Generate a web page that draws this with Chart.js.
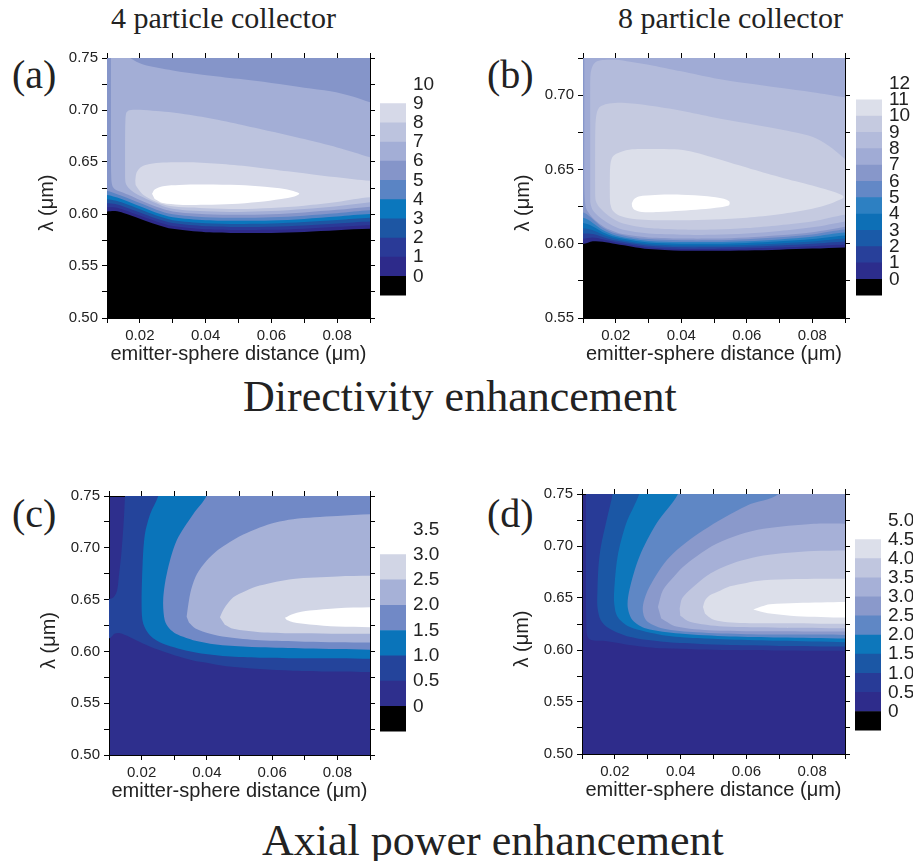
<!DOCTYPE html>
<html>
<head>
<meta charset="utf-8">
<script src="https://cdn.jsdelivr.net/npm/chart.js@4.4.1/dist/chart.umd.min.js"></script>
<style>
  html, body { margin: 0; padding: 0; background: #fff; width: 913px; height: 861px; overflow: hidden; }
  body { position: relative; }
  canvas { position: absolute; }
  .serif { position: absolute; font-family: "Liberation Serif", "Times New Roman", serif; color: #222; line-height: 1; white-space: nowrap; }
</style>
</head>
<body>
<div class="serif" style="left:111px;top:3px;font-size:30px">4 particle collector</div>
<div class="serif" style="left:618px;top:3px;font-size:30px">8 particle collector</div>
<div class="serif" style="left:12px;top:55px;font-size:40px">(a)</div>
<div class="serif" style="left:487px;top:55px;font-size:40px">(b)</div>
<div class="serif" style="left:12px;top:494px;font-size:40px">(c)</div>
<div class="serif" style="left:487px;top:494px;font-size:40px">(d)</div>
<div class="serif" style="left:243px;top:375px;font-size:44px">Directivity enhancement</div>
<div class="serif" style="left:262px;top:819px;font-size:44px">Axial power enhancement</div>

<canvas id="plotA"></canvas>
<canvas id="plotB"></canvas>
<canvas id="plotC"></canvas>
<canvas id="plotD"></canvas>
<canvas id="barA"></canvas>
<canvas id="barB"></canvas>
<canvas id="barC"></canvas>
<canvas id="barD"></canvas>

<script>
// 축 / 글꼴 기본값
Chart.defaults.font.family = '"Liberation Sans", Arial, sans-serif';
Chart.defaults.color = '#222';

// ---- (a) 4 particle collector, directivity: 등고선 경계 (x = 거리 µm, y = λ µm) ----
const xsA = [0.01, 0.0125, 0.015, 0.02, 0.025, 0.03, 0.04, 0.05, 0.06, 0.07, 0.08, 0.09];
const a0 = [0.6025, 0.6028, 0.601, 0.5955, 0.590, 0.5857, 0.5825, 0.5818, 0.5818, 0.5828, 0.5844, 0.5857];
const a1 = [0.6064, 0.6062, 0.6042, 0.5985, 0.5928, 0.5885, 0.5854, 0.5847, 0.5848, 0.5859, 0.5877, 0.5893];
const a2 = [0.6103, 0.6095, 0.6073, 0.6015, 0.5957, 0.5913, 0.5883, 0.5876, 0.5878, 0.5890, 0.5909, 0.5928];
const a3 = [0.6143, 0.6129, 0.6105, 0.6045, 0.5985, 0.5941, 0.5912, 0.5905, 0.5908, 0.5922, 0.5942, 0.5964];
const a4 = [0.6182, 0.6163, 0.6137, 0.6075, 0.6013, 0.5969, 0.5940, 0.5934, 0.5938, 0.5953, 0.5975, 0.5999];
const a5 = [0.6221, 0.6196, 0.6168, 0.6105, 0.6042, 0.5997, 0.5969, 0.5963, 0.5968, 0.5984, 0.6007, 0.6035];
const a6 = [[0.0112, 0.90], [0.0112, 0.76], [0.0112, 0.70], [0.0112, 0.66], [0.0113, 0.635], [0.0116, 0.6275],
  [0.0125, 0.6235], [0.015, 0.6205], [0.017, 0.6178], [0.02, 0.6135], [0.025, 0.607], [0.03, 0.6025], [0.04, 0.5998],
  [0.05, 0.5992], [0.06, 0.5998], [0.07, 0.6015], [0.08, 0.604], [0.09, 0.607], [0.10, 0.610], [0.105, 0.64],
  [0.10, 0.701], [0.09, 0.7075], [0.085, 0.7128], [0.078, 0.718], [0.07, 0.7215], [0.06, 0.726], [0.05, 0.730],
  [0.039, 0.734], [0.03, 0.738], [0.021, 0.7437], [0.017, 0.75], [0.0145, 0.756], [0.013, 0.90]];
const a7 = [[0.0155, 0.645], [0.0155, 0.67], [0.0156, 0.690], [0.0159, 0.6975], [0.0168, 0.6998], [0.02, 0.7003],
  [0.025, 0.699], [0.03, 0.6975], [0.04, 0.6927], [0.05, 0.6863], [0.06, 0.6793], [0.07, 0.672], [0.08, 0.664],
  [0.09, 0.6545], [0.10, 0.644], [0.105, 0.63], [0.10, 0.6145], [0.09, 0.6112], [0.08, 0.6075], [0.07, 0.6048],
  [0.06, 0.6028], [0.05, 0.602], [0.04, 0.6027], [0.033, 0.6038], [0.028, 0.6065], [0.024, 0.6115], [0.02, 0.6175],
  [0.018, 0.6212], [0.0165, 0.6252], [0.0157, 0.6295], [0.0155, 0.635]];
const a8 = [[0.0186, 0.632], [0.019, 0.640], [0.0205, 0.6455], [0.023, 0.648], [0.027, 0.6495], [0.035, 0.6497],
  [0.045, 0.648], [0.055, 0.645], [0.065, 0.641], [0.075, 0.637], [0.085, 0.6335], [0.09, 0.632], [0.10, 0.629],
  [0.105, 0.622], [0.10, 0.6158], [0.09, 0.616], [0.08, 0.6115], [0.07, 0.608], [0.06, 0.6058], [0.05, 0.6048],
  [0.04, 0.6055], [0.033, 0.6065], [0.028, 0.6085], [0.024, 0.613], [0.021, 0.6185], [0.0195, 0.624], [0.0187, 0.628]];
const a9 = [[0.0237, 0.6194], [0.0245, 0.6235], [0.027, 0.6268], [0.032, 0.628], [0.04, 0.6283], [0.05, 0.6278],
  [0.058, 0.6262], [0.064, 0.624], [0.0675, 0.6212], [0.0685, 0.6195], [0.067, 0.6168], [0.063, 0.6145],
  [0.056, 0.6115], [0.048, 0.6095], [0.04, 0.6088], [0.032, 0.609], [0.027, 0.6105], [0.0245, 0.6145]];

// ---- (b) 8 particle collector, directivity ----
const xsB = [0.01, 0.013, 0.016, 0.02, 0.025, 0.03, 0.04, 0.05, 0.06, 0.07, 0.08, 0.09];
const b0 = [0.5998, 0.6016, 0.6014, 0.5998, 0.598, 0.5964, 0.5953, 0.5953, 0.5955, 0.596, 0.5967, 0.5975];
const b1 = [0.6033, 0.6041, 0.6030, 0.6010, 0.5991, 0.5975, 0.5965, 0.5965, 0.5967, 0.5974, 0.5983, 0.5995];
const b2 = [0.6069, 0.6066, 0.6046, 0.6021, 0.6001, 0.5986, 0.5976, 0.5976, 0.5980, 0.5988, 0.5999, 0.6015];
const b3 = [0.6104, 0.6091, 0.6062, 0.6033, 0.6012, 0.5997, 0.5988, 0.5988, 0.5992, 0.6002, 0.6015, 0.6035];
const b4 = [0.6139, 0.6116, 0.6078, 0.6045, 0.6023, 0.6008, 0.6000, 0.6000, 0.6005, 0.6016, 0.6031, 0.6055];
const b5 = [0.6174, 0.6140, 0.6093, 0.6056, 0.6033, 0.6019, 0.6012, 0.6012, 0.6017, 0.6029, 0.6047, 0.6075];
const b6 = [0.6210, 0.6165, 0.6109, 0.6068, 0.6044, 0.6031, 0.6023, 0.6023, 0.6030, 0.6043, 0.6062, 0.6095];
const b7 = [[0.0104, 0.90], [0.0104, 0.74], [0.0104, 0.68], [0.0104, 0.64], [0.0106, 0.6285], [0.011, 0.6235],
  [0.0125, 0.6185], [0.015, 0.6135], [0.018, 0.6095], [0.022, 0.6065], [0.03, 0.6042], [0.04, 0.6035], [0.05, 0.6035],
  [0.06, 0.6042], [0.07, 0.6057], [0.08, 0.6078], [0.09, 0.6115], [0.10, 0.6155], [0.10, 0.90]];
const b8 = [[0.0122, 0.64], [0.0122, 0.68], [0.0122, 0.705], [0.0123, 0.714], [0.0128, 0.719], [0.0138, 0.7222],
  [0.016, 0.7236], [0.02, 0.7238], [0.0244, 0.7225], [0.03, 0.7205], [0.04, 0.716], [0.05, 0.7114], [0.06, 0.708],
  [0.07, 0.705], [0.08, 0.702], [0.09, 0.6985], [0.10, 0.695], [0.105, 0.66], [0.10, 0.619], [0.09, 0.615],
  [0.08, 0.611], [0.07, 0.6085], [0.06, 0.6068], [0.05, 0.606], [0.04, 0.606], [0.03, 0.6068], [0.022, 0.6095],
  [0.018, 0.6135], [0.015, 0.618], [0.013, 0.6225], [0.0123, 0.627], [0.0122, 0.632]];
const b9 = [[0.0137, 0.64], [0.0137, 0.66], [0.0138, 0.68], [0.0142, 0.688], [0.015, 0.6918], [0.0165, 0.6935],
  [0.018, 0.6943], [0.022, 0.6948], [0.03, 0.693], [0.04, 0.6895], [0.05, 0.685], [0.06, 0.681], [0.07, 0.677],
  [0.08, 0.672], [0.085, 0.666], [0.09, 0.657], [0.095, 0.645], [0.10, 0.63], [0.10, 0.621], [0.09, 0.6195],
  [0.08, 0.615], [0.07, 0.6125], [0.06, 0.6105], [0.05, 0.6095], [0.04, 0.6095], [0.03, 0.6105], [0.022, 0.6138],
  [0.018, 0.6185], [0.015, 0.6245], [0.0139, 0.629], [0.0137, 0.634]];
const b10 = [[0.0182, 0.631], [0.0182, 0.645], [0.0184, 0.654], [0.0192, 0.659], [0.0213, 0.6616], [0.025, 0.6635],
  [0.03, 0.6638], [0.038, 0.6635], [0.043, 0.662], [0.048, 0.659], [0.055, 0.6545], [0.065, 0.648], [0.075, 0.642],
  [0.085, 0.636], [0.0893, 0.6325], [0.0895, 0.631], [0.088, 0.6292], [0.085, 0.6265], [0.08, 0.6235], [0.07, 0.6198],
  [0.06, 0.6175], [0.05, 0.6163], [0.04, 0.6158], [0.03, 0.616], [0.025, 0.6168], [0.021, 0.619], [0.019, 0.6225],
  [0.0183, 0.627]];
const b11 = [[0.0249, 0.627], [0.0255, 0.6298], [0.027, 0.6318], [0.032, 0.6328], [0.04, 0.633], [0.048, 0.632],
  [0.053, 0.6302], [0.0546, 0.6285], [0.0548, 0.6272], [0.0545, 0.6258], [0.052, 0.6246], [0.046, 0.6232],
  [0.04, 0.6222], [0.033, 0.6213], [0.028, 0.6213], [0.0257, 0.6228], [0.025, 0.6248]];

// ---- (c) 4 particle collector, axial power (0.5 단위) ----
const c1 = [[0.0, 0.6125], [0.01, 0.6125], [0.0118, 0.6172], [0.0134, 0.6176], [0.016, 0.6145], [0.0185, 0.6106],
  [0.022, 0.6055], [0.0256, 0.601], [0.03, 0.5963], [0.0358, 0.5913], [0.04, 0.589], [0.046, 0.5856], [0.0562, 0.583],
  [0.0664, 0.5814], [0.078, 0.5806], [0.09, 0.5801], [0.10, 0.58], [0.10, 0.90], [0.0152, 0.90], [0.0151, 0.77],
  [0.0149, 0.75], [0.0145, 0.725], [0.0138, 0.695], [0.013, 0.672], [0.0125, 0.659], [0.0115, 0.6525], [0.01, 0.6505],
  [0.0, 0.6505]];
const c2 = [[0.028, 0.90], [0.0265, 0.77], [0.0251, 0.75], [0.0226, 0.7324], [0.021, 0.7131], [0.0203, 0.6843],
  [0.02, 0.6426], [0.0205, 0.6266], [0.0226, 0.6154], [0.0266, 0.6074], [0.0358, 0.5994], [0.046, 0.5952],
  [0.0562, 0.5939], [0.07, 0.5934], [0.09, 0.593], [0.10, 0.593], [0.10, 0.90]];
const c3 = [[0.043, 0.90], [0.0415, 0.77], [0.0399, 0.75], [0.0358, 0.7324], [0.0307, 0.7067], [0.0277, 0.6747],
  [0.0266, 0.649], [0.0271, 0.6298], [0.0285, 0.622], [0.0305, 0.617], [0.0335, 0.6132], [0.0365, 0.6103],
  [0.041, 0.6075], [0.046, 0.6058], [0.0562, 0.604], [0.07, 0.6028], [0.08, 0.6022], [0.09, 0.6015], [0.10, 0.601],
  [0.10, 0.90]];
const c4 = [[0.0338, 0.6335], [0.0343, 0.645], [0.0352, 0.66], [0.037, 0.675], [0.0399, 0.6875], [0.043, 0.697],
  [0.046, 0.7035], [0.051, 0.7125], [0.0562, 0.7196], [0.061, 0.7245], [0.0664, 0.7276], [0.073, 0.7295],
  [0.08, 0.7308], [0.09, 0.7324], [0.10, 0.733], [0.105, 0.67], [0.10, 0.6085], [0.09, 0.6085], [0.08, 0.6088],
  [0.07, 0.6094], [0.0562, 0.6107], [0.046, 0.6138], [0.041, 0.617], [0.0365, 0.6222], [0.0345, 0.628]];
const c5 = [[0.044, 0.633], [0.0452, 0.641], [0.0481, 0.6522], [0.052, 0.6585], [0.0562, 0.6635], [0.0664, 0.6699],
  [0.08, 0.6724], [0.09, 0.673], [0.10, 0.6733], [0.105, 0.645], [0.10, 0.6168], [0.09, 0.617], [0.0664, 0.6176],
  [0.0562, 0.6186], [0.0481, 0.6218], [0.0455, 0.6258]];
const c6 = [[0.0639, 0.6324], [0.0664, 0.6362], [0.0715, 0.6394], [0.08, 0.6417], [0.09, 0.6426], [0.10, 0.643],
  [0.10, 0.623], [0.09, 0.6234], [0.08, 0.624], [0.0715, 0.626], [0.0664, 0.6282], [0.0645, 0.6302]];

// ---- (d) 8 particle collector, axial power ----
const d1 = [[0.0112, 0.90], [0.0112, 0.76], [0.0112, 0.70], [0.0112, 0.65], [0.0113, 0.625], [0.0115, 0.6145],
  [0.0122, 0.6105], [0.0135, 0.6092], [0.0162, 0.6088], [0.02, 0.6072], [0.0244, 0.6048], [0.03, 0.6027],
  [0.0346, 0.6016], [0.045, 0.6006], [0.055, 0.6], [0.07, 0.5996], [0.09, 0.5993], [0.10, 0.5992], [0.10, 0.90]];
const d2 = [[0.0205, 0.90], [0.0199, 0.77], [0.0193, 0.75], [0.0175, 0.725], [0.0157, 0.6989], [0.015, 0.68],
  [0.0147, 0.6574], [0.0147, 0.6414], [0.0157, 0.6287], [0.0183, 0.6207], [0.0244, 0.6127], [0.0346, 0.6079],
  [0.045, 0.606], [0.055, 0.6047], [0.07, 0.6039], [0.09, 0.6033], [0.10, 0.603], [0.10, 0.90]];
const d3 = [[0.0295, 0.90], [0.0285, 0.77], [0.0274, 0.75], [0.0234, 0.7213], [0.0208, 0.6893], [0.0198, 0.6574],
  [0.0198, 0.6446], [0.0208, 0.6319], [0.0244, 0.6223], [0.0346, 0.6143], [0.045, 0.6115], [0.055, 0.6101],
  [0.07, 0.6088], [0.09, 0.6075], [0.10, 0.607], [0.10, 0.90]];
const d4 = [[0.0415, 0.90], [0.0405, 0.77], [0.0392, 0.75], [0.0326, 0.7213], [0.0274, 0.6893], [0.0244, 0.6574],
  [0.0239, 0.6414], [0.0254, 0.6287], [0.0295, 0.6207], [0.0397, 0.6158], [0.055, 0.613], [0.07, 0.612],
  [0.09, 0.611], [0.10, 0.6105], [0.10, 0.90]];
const d5 = [[0.073, 0.90], [0.0715, 0.77], [0.0698, 0.75], [0.0601, 0.7388], [0.0468, 0.7149], [0.0366, 0.6893],
  [0.0305, 0.6606], [0.0285, 0.6414], [0.0295, 0.6287], [0.0346, 0.6207], [0.0448, 0.617], [0.06, 0.6152],
  [0.075, 0.6148], [0.09, 0.6145], [0.10, 0.6142], [0.10, 0.90]];
const d6 = [[0.0331, 0.6414], [0.0346, 0.6574], [0.0378, 0.670], [0.0407, 0.6798], [0.045, 0.6905], [0.0509, 0.7021],
  [0.058, 0.711], [0.0652, 0.7165], [0.0805, 0.7213], [0.09, 0.7215], [0.10, 0.7215], [0.105, 0.67], [0.10, 0.6178],
  [0.09, 0.6178], [0.07, 0.6181], [0.0499, 0.6188], [0.0387, 0.6225], [0.0341, 0.6303]];
const d7 = [[0.0397, 0.6398], [0.0405, 0.650], [0.0438, 0.6606], [0.048, 0.6715], [0.053, 0.6798], [0.0585, 0.686],
  [0.0652, 0.6909], [0.0805, 0.6951], [0.09, 0.6957], [0.10, 0.696], [0.105, 0.66], [0.10, 0.6208], [0.09, 0.621],
  [0.07, 0.6215], [0.053, 0.6225], [0.0428, 0.6271], [0.0399, 0.633]];
const d8 = [[0.0468, 0.6414], [0.0475, 0.648], [0.0489, 0.6526], [0.052, 0.657], [0.055, 0.6612], [0.06, 0.6645],
  [0.0652, 0.667], [0.075, 0.6683], [0.09, 0.6686], [0.10, 0.6688], [0.105, 0.645], [0.10, 0.6252], [0.09, 0.6252],
  [0.07, 0.6258], [0.058, 0.626], [0.053, 0.6271], [0.0495, 0.6298], [0.0474, 0.635]];
const d9 = [[0.0621, 0.639], [0.0645, 0.6418], [0.0672, 0.644], [0.0754, 0.6453], [0.09, 0.6462], [0.10, 0.6465],
  [0.10, 0.631], [0.09, 0.6312], [0.0754, 0.6325], [0.0672, 0.635], [0.0645, 0.6368]];

// 컬러바 눈금 (레벨)
const levelsA = [0, 1, 2, 3, 4, 5, 6, 7, 8, 9, 10];
const levelsB = [0, 1, 2, 3, 4, 5, 6, 7, 8, 9, 10, 11, 12];
const levelsC = [0, 0.5, 1.0, 1.5, 2.0, 2.5, 3.0, 3.5];
const levelsD = [0, 0.5, 1.0, 1.5, 2.0, 2.5, 3.0, 3.5, 4.0, 4.5, 5.0];

// 색상표 (아래 → 위)
const palA = ['#2d2a8a', '#2a3a97', '#1d56a3', '#0b77bd', '#5a84c4', '#8595c9', '#a3aed6', '#bcc3de', '#d6d9e8', '#ffffff'];
const palB = ['#2c2d8c', '#28409a', '#1a5aa8', '#0d6fb6', '#2d80c2', '#6388c6', '#8797ca', '#a0abd5', '#b3bbdb', '#c5cae0', '#dcdfea', '#ffffff'];
const palC = ['#2e2f8d', '#24449b', '#0a74ba', '#7189c6', '#a6b1d7', '#d1d5e5', '#ffffff'];
const palD = ['#2e2c8b', '#283b97', '#1b57a5', '#0d77bb', '#5f87c5', '#8a99cb', '#a6b0d7', '#c0c6df', '#dcdfea', '#ffffff'];

// 곡선 위쪽 전체 영역을 닫힌 다각형으로
function above(xs, ys) {
  const n = xs.length - 1;
  const pts = [[xs[0] - 0.01, ys[0]]];
  xs.forEach((x, i) => pts.push([x, ys[i]]));
  pts.push([xs[n] + 0.01, ys[n]], [xs[n] + 0.01, 0.95], [xs[0] - 0.01, 0.95]);
  return pts;
}

const tickFont = { size: 15 };
const titleFont = { size: 20 };

function frameAxis(pos, min, max, step) {
  return {
    type: 'linear', position: pos, min, max, z: 1,
    ticks: { display: false, stepSize: step },
    grid: { drawOnChartArea: false, tickLength: 5, color: '#000' },
    border: { display: true, color: '#000', width: 1 },
    afterFit: s => { if (pos === 'top') s.height = 12; else s.width = 10; }
  };
}

// 등고선 패널
function makePlot(id, area, yMin, yMax, base, regions, colors) {
  const cv = document.getElementById(id);
  cv.width = area.r - area.l + 90;
  cv.height = area.b - area.t + 64;
  cv.style.left = (area.l - 80) + 'px';
  cv.style.top = (area.t - 12) + 'px';

  const datasets = regions.map((pts, i) => ({
    data: pts.map(p => ({ x: p[0], y: p[1] })),
    showLine: true,
    fill: 'shape',
    backgroundColor: colors[i],
    borderWidth: 0,
    pointRadius: 0,
    tension: 0.3,
    capBezierPoints: false
  })).reverse(); // 마지막 데이터셋이 가장 먼저 그려짐

  const basePlugin = {
    id: 'base',
    beforeDraw(chart) {
      const { ctx, chartArea: a } = chart;
      ctx.save();
      ctx.fillStyle = base;
      ctx.fillRect(a.left, a.top, a.right - a.left, a.bottom - a.top);
      ctx.restore();
    }
  };

  return new Chart(cv, {
    type: 'scatter',
    data: { datasets },
    plugins: [basePlugin],
    options: {
      responsive: false,
      animation: false,
      events: [],
      layout: { padding: 0 },
      plugins: { legend: { display: false }, tooltip: { enabled: false } },
      scales: {
        x: {
          type: 'linear', position: 'bottom', min: 0.01, max: 0.09, z: 1,
          ticks: {
            stepSize: 0.01, autoSkip: false, maxRotation: 0, padding: 4, color: '#222', font: tickFont,
            callback: v => (Math.round(v * 100) % 2 === 0 ? v.toFixed(2) : '')
          },
          grid: { drawOnChartArea: false, tickLength: 5, color: '#000' },
          border: { display: true, color: '#000', width: 1 },
          title: { display: true, text: 'emitter-sphere distance (μm)', font: titleFont, color: '#222', padding: { top: 0, bottom: 4 } },
          afterFit: s => { s.height = 52; }
        },
        x2: frameAxis('top', 0.01, 0.09, 0.01),
        y: {
          type: 'linear', position: 'left', min: yMin, max: yMax, z: 1,
          ticks: {
            stepSize: 0.025, autoSkip: false, padding: 4, color: '#222', font: tickFont,
            callback: v => (Math.round(v * 1000) % 50 === 0 ? v.toFixed(2) : '')
          },
          grid: { drawOnChartArea: false, tickLength: 5, color: '#000' },
          border: { display: true, color: '#000', width: 1 },
          title: { display: true, text: 'λ (μm)\u2002\u2002\u2002', font: titleFont, color: '#222', padding: { top: 8, bottom: 0 } },
          afterFit: s => { s.width = 80; }
        },
        y2: frameAxis('right', yMin, yMax, 0.025)
      }
    }
  });
}

// 컬러바 (누적 막대)
function makeBar(id, area, levels, colors) {
  const step = levels[1] - levels[0];
  const cv = document.getElementById(id);
  cv.width = 26 + 60;
  cv.height = area.b - area.t + 28;
  cv.style.left = area.l + 'px';
  cv.style.top = (area.t - 14) + 'px';

  const datasets = colors.map((c, i) => ({
    data: [i === 0 ? -step : step],
    backgroundColor: c,
    borderWidth: 0,
    barPercentage: 1,
    categoryPercentage: 1
  }));

  return new Chart(cv, {
    type: 'bar',
    data: { labels: [''], datasets },
    options: {
      responsive: false,
      animation: false,
      events: [],
      layout: { padding: { top: 14, bottom: 14, left: 0, right: 0 } },
      plugins: { legend: { display: false }, tooltip: { enabled: false } },
      scales: {
        x: { display: false, stacked: true },
        y: {
          stacked: true, position: 'right', min: -step, max: levels[levels.length - 1],
          ticks: {
            stepSize: step, autoSkip: false, padding: 7, color: '#222', font: { size: 19 },
            callback: v => (v < 0 ? '' : (step < 1 && v !== 0 ? v.toFixed(1) : String(v)))
          },
          grid: { display: false, drawTicks: false },
          border: { display: false },
          afterFit: s => { s.width = 60; }
        }
      }
    }
  });
}

// 패널 배치
const areaA = { l: 107, t: 57, r: 370, b: 318 };
const areaB = { l: 583, t: 57, r: 845, b: 318 };
const areaC = { l: 109, t: 495, r: 370, b: 755 };
const areaD = { l: 582, t: 493, r: 845, b: 754 };

makePlot('plotA', areaA, 0.50, 0.75, '#000000',
  [above(xsA, a0), above(xsA, a1), above(xsA, a2), above(xsA, a3), above(xsA, a4), above(xsA, a5), a6, a7, a8, a9], palA);
makePlot('plotB', areaB, 0.55, 0.725, '#000000',
  [above(xsB, b0), above(xsB, b1), above(xsB, b2), above(xsB, b3), above(xsB, b4), above(xsB, b5), above(xsB, b6),
   b7, b8, b9, b10, b11], palB);
makePlot('plotC', areaC, 0.50, 0.75, palC[0], [c1, c2, c3, c4, c5, c6], palC.slice(1));
makePlot('plotD', areaD, 0.50, 0.75, palD[0], [d1, d2, d3, d4, d5, d6, d7, d8, d9], palD.slice(1));

makeBar('barA', { l: 380, t: 80, b: 300 }, levelsA, ['#000000'].concat(palA.slice(0, 9)));
makeBar('barB', { l: 856, t: 79, b: 300 }, levelsB, ['#000000'].concat(palB.slice(0, 11)));
makeBar('barC', { l: 380, t: 525, b: 736 }, levelsC, ['#000000'].concat(palC.slice(0, 6)));
makeBar('barD', { l: 855, t: 516, b: 735 }, levelsD, ['#000000'].concat(palD.slice(0, 9)));
</script>
</body>
</html>
